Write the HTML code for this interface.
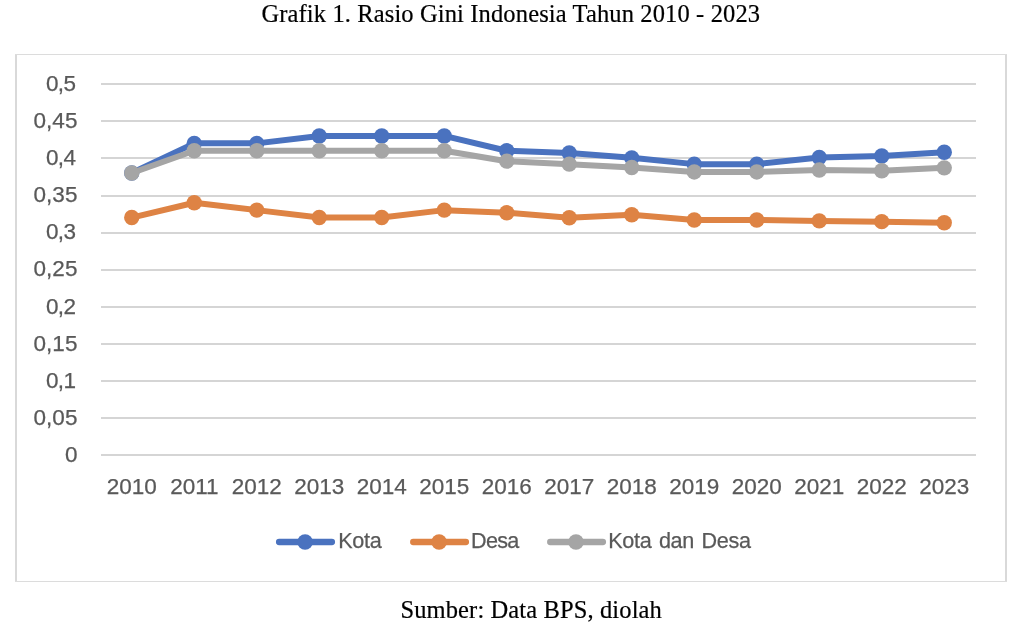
<!DOCTYPE html>
<html lang="id">
<head>
<meta charset="utf-8">
<title>Grafik 1. Rasio Gini Indonesia Tahun 2010 - 2023</title>
<style>
html,body{margin:0;padding:0;background:#fff;}
body{width:1022px;height:628px;overflow:hidden;position:relative;}
svg{position:absolute;left:0;top:0;display:block;}
.serif{font-family:"Liberation Serif",serif;font-size:24.5px;fill:#000;stroke:#000;stroke-width:0.2px;letter-spacing:0.13px;}
.sans{font-family:"Liberation Sans",sans-serif;font-size:22.5px;fill:#595959;stroke:#595959;stroke-width:0.25px;}
.ay{letter-spacing:0.1px;}
.ax{letter-spacing:0px;}
.lg{font-size:21.6px;}
</style>
</head>
<body>
<svg width="1022" height="628" viewBox="0 0 1022 628">
<rect x="0" y="0" width="1022" height="628" fill="#ffffff"/>
<text class="serif" x="510.8" y="21.5" text-anchor="middle">Grafik 1. Rasio Gini Indonesia Tahun 2010 - 2023</text>
<text class="serif" x="531.2" y="617.9" text-anchor="middle" style="letter-spacing:0.12px">Sumber: Data BPS, diolah</text>
<g fill="#d9d9d9"><rect x="15" y="54" width="2" height="528"/><rect x="1005" y="54" width="2" height="528"/><rect x="15" y="54" width="992" height="1" fill="#dcdcdc"/><rect x="15" y="581" width="992" height="1" fill="#dcdcdc"/></g>
<g stroke="#d5d5d5" stroke-width="2" fill="none">
<line x1="101.0" y1="455.00" x2="976.0" y2="455.00"/>
<line x1="101.0" y1="418.00" x2="976.0" y2="418.00"/>
<line x1="101.0" y1="381.00" x2="976.0" y2="381.00"/>
<line x1="101.0" y1="344.00" x2="976.0" y2="344.00"/>
<line x1="101.0" y1="307.00" x2="976.0" y2="307.00"/>
<line x1="101.0" y1="270.00" x2="976.0" y2="270.00"/>
<line x1="101.0" y1="233.00" x2="976.0" y2="233.00"/>
<line x1="101.0" y1="196.00" x2="976.0" y2="196.00"/>
<line x1="101.0" y1="158.00" x2="976.0" y2="158.00"/>
<line x1="101.0" y1="121.00" x2="976.0" y2="121.00"/>
<line x1="101.0" y1="84.00" x2="976.0" y2="84.00"/>
</g>
<g class="sans ay" text-anchor="end">
<text x="77.6" y="462">0</text>
<text x="77.6" y="425">0,05</text>
<text x="75.4" y="388" style="letter-spacing:-0.6px">0,1</text>
<text x="77.6" y="351">0,15</text>
<text x="75.4" y="314" style="letter-spacing:-0.6px">0,2</text>
<text x="77.6" y="276">0,25</text>
<text x="75.4" y="239" style="letter-spacing:-0.6px">0,3</text>
<text x="77.6" y="202">0,35</text>
<text x="75.4" y="165" style="letter-spacing:-0.6px">0,4</text>
<text x="77.6" y="128">0,45</text>
<text x="75.4" y="91" style="letter-spacing:-0.6px">0,5</text>
</g>
<g class="sans ax" text-anchor="middle">
<text x="131.85" y="494.4">2010</text>
<text x="194.35" y="494.4">2011</text>
<text x="256.85" y="494.4">2012</text>
<text x="319.35" y="494.4">2013</text>
<text x="381.85" y="494.4">2014</text>
<text x="444.35" y="494.4">2015</text>
<text x="506.85" y="494.4">2016</text>
<text x="569.35" y="494.4">2017</text>
<text x="631.85" y="494.4">2018</text>
<text x="694.35" y="494.4">2019</text>
<text x="756.85" y="494.4">2020</text>
<text x="819.35" y="494.4">2021</text>
<text x="881.85" y="494.4">2022</text>
<text x="944.35" y="494.4">2023</text>
</g>
<g fill="#4a72bf" stroke="none">
<polyline points="131.75,173.04 194.25,143.36 256.75,143.36 319.25,135.94 381.75,135.94 444.25,135.94 506.75,150.78 569.25,153.01 631.75,157.83 694.25,164.14 756.75,164.14 819.25,157.46 881.75,155.97 944.25,152.26" fill="none" stroke="#4a72bf" stroke-width="6.0" stroke-linejoin="round" stroke-linecap="round"/>
<circle cx="131.75" cy="173.04" r="7.7"/>
<circle cx="194.25" cy="143.36" r="7.7"/>
<circle cx="256.75" cy="143.36" r="7.7"/>
<circle cx="319.25" cy="135.94" r="7.7"/>
<circle cx="381.75" cy="135.94" r="7.7"/>
<circle cx="444.25" cy="135.94" r="7.7"/>
<circle cx="506.75" cy="150.78" r="7.7"/>
<circle cx="569.25" cy="153.01" r="7.7"/>
<circle cx="631.75" cy="157.83" r="7.7"/>
<circle cx="694.25" cy="164.14" r="7.7"/>
<circle cx="756.75" cy="164.14" r="7.7"/>
<circle cx="819.25" cy="157.46" r="7.7"/>
<circle cx="881.75" cy="155.97" r="7.7"/>
<circle cx="944.25" cy="152.26" r="7.7"/>
</g>
<g fill="#de8344" stroke="none">
<polyline points="131.75,217.56 194.25,202.72 256.75,210.14 319.25,217.56 381.75,217.56 444.25,210.14 506.75,212.74 569.25,217.78 631.75,214.81 694.25,220.01 756.75,220.01 819.25,220.90 881.75,221.64 944.25,222.75" fill="none" stroke="#de8344" stroke-width="6.0" stroke-linejoin="round" stroke-linecap="round"/>
<circle cx="131.75" cy="217.56" r="7.7"/>
<circle cx="194.25" cy="202.72" r="7.7"/>
<circle cx="256.75" cy="210.14" r="7.7"/>
<circle cx="319.25" cy="217.56" r="7.7"/>
<circle cx="381.75" cy="217.56" r="7.7"/>
<circle cx="444.25" cy="210.14" r="7.7"/>
<circle cx="506.75" cy="212.74" r="7.7"/>
<circle cx="569.25" cy="217.78" r="7.7"/>
<circle cx="631.75" cy="214.81" r="7.7"/>
<circle cx="694.25" cy="220.01" r="7.7"/>
<circle cx="756.75" cy="220.01" r="7.7"/>
<circle cx="819.25" cy="220.90" r="7.7"/>
<circle cx="881.75" cy="221.64" r="7.7"/>
<circle cx="944.25" cy="222.75" r="7.7"/>
</g>
<g fill="#a5a5a5" stroke="none">
<polyline points="131.75,173.04 194.25,150.78 256.75,150.78 319.25,150.78 381.75,150.78 444.25,150.78 506.75,161.17 569.25,164.14 631.75,167.47 694.25,171.93 756.75,171.93 819.25,170.07 881.75,170.81 944.25,167.85" fill="none" stroke="#a5a5a5" stroke-width="6.0" stroke-linejoin="round" stroke-linecap="round"/>
<circle cx="131.75" cy="173.04" r="7.7"/>
<circle cx="194.25" cy="150.78" r="7.7"/>
<circle cx="256.75" cy="150.78" r="7.7"/>
<circle cx="319.25" cy="150.78" r="7.7"/>
<circle cx="381.75" cy="150.78" r="7.7"/>
<circle cx="444.25" cy="150.78" r="7.7"/>
<circle cx="506.75" cy="161.17" r="7.7"/>
<circle cx="569.25" cy="164.14" r="7.7"/>
<circle cx="631.75" cy="167.47" r="7.7"/>
<circle cx="694.25" cy="171.93" r="7.7"/>
<circle cx="756.75" cy="171.93" r="7.7"/>
<circle cx="819.25" cy="170.07" r="7.7"/>
<circle cx="881.75" cy="170.81" r="7.7"/>
<circle cx="944.25" cy="167.85" r="7.7"/>
</g>
<line x1="279.1" y1="542" x2="331.9" y2="542" stroke="#4a72bf" stroke-width="6.3" stroke-linecap="round"/>
<circle cx="305.1" cy="542" r="7.8" fill="#4a72bf"/>
<text class="sans lg" x="338.2" y="548.3" style="letter-spacing:-0.3px">Kota</text>
<line x1="413.2" y1="542" x2="465.9" y2="542" stroke="#de8344" stroke-width="6.3" stroke-linecap="round"/>
<circle cx="439.1" cy="542" r="7.8" fill="#de8344"/>
<text class="sans lg" x="471.0" y="548.3" style="letter-spacing:-0.7px">Desa</text>
<line x1="550.2" y1="542" x2="602.9" y2="542" stroke="#a5a5a5" stroke-width="6.3" stroke-linecap="round"/>
<circle cx="576.0" cy="542" r="7.8" fill="#a5a5a5"/>
<text class="sans lg" x="608.2" y="548.3" style="letter-spacing:-0.3px;word-spacing:1.8px">Kota dan Desa</text>
</svg>
</body>
</html>
